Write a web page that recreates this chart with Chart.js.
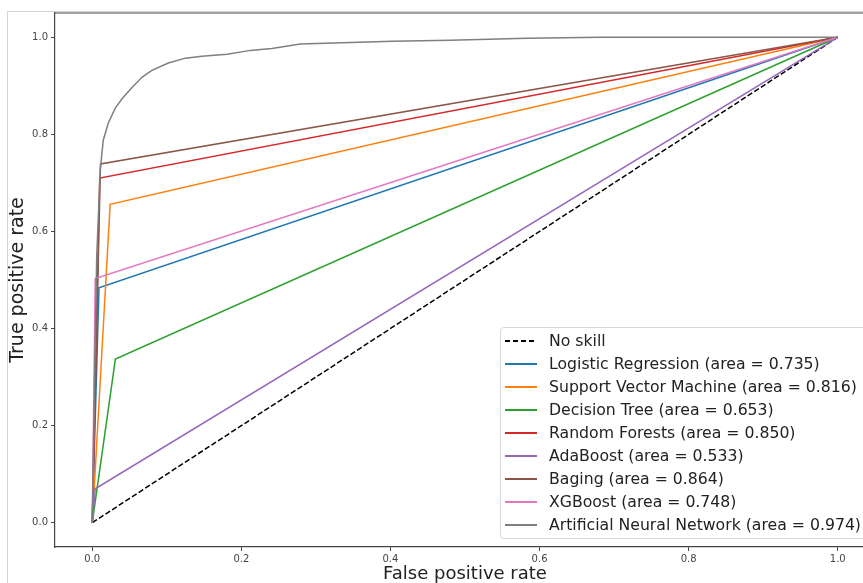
<!DOCTYPE html>
<html>
<head>
<meta charset="utf-8">
<script src="https://cdn.jsdelivr.net/npm/chart.js@4.4.1/dist/chart.umd.min.js"></script>
<style>
  html, body { margin: 0; padding: 0; background: #fff; overflow: hidden; }
  #wrap { position: relative; width: 863px; height: 583px; overflow: hidden; }
  #frame { position: absolute; left: 7px; top: 11px; width: 900px; height: 600px;
           border-left: 1px solid #d4d4d4; border-top: 1px solid #d4d4d4; }
  #rocChart { position: absolute; left: 0; top: 0; }
  #legend { position: absolute; left: 500px; top: 327px; width: 420px; height: 209px;
            border: 1px solid #d8d8d8; border-radius: 4px; background: rgba(255,255,255,0.85);
            font-family: "DejaVu Sans", sans-serif; font-size: 15.7px; color: #222; padding-top: 1px; }
  .row { height: 23px; display: flex; align-items: center; white-space: nowrap; }
  .sw { display: inline-block; width: 32px; margin-left: 4px; margin-right: 12px; height: 2px; }
</style>
</head>
<body>
<div id="wrap">
  <div id="frame"></div>
  <canvas id="rocChart" width="880" height="583"></canvas>
  <div id="legend"></div>
</div>
<script>
// Curvas ROC (fpr / tpr)
const noSkillFpr = [0, 1];
const noSkillTpr = [0, 1];
const lrFpr = [0, 0.009, 1];
const lrTpr = [0, 0.484, 1];
const svmFpr = [0, 0.024, 1];
const svmTpr = [0, 0.656, 1];
const dtFpr = [0, 0.031, 1];
const dtTpr = [0, 0.337, 1];
const rfFpr = [0, 0.010, 1];
const rfTpr = [0, 0.710, 1];
const adaFpr = [0, 0.004, 1];
const adaTpr = [0, 0.070, 1];
const bagFpr = [0, 0.011, 1];
const bagTpr = [0, 0.739, 1];
const xgbFpr = [0, 0.004, 1];
const xgbTpr = [0, 0.503, 1];
const annFpr = [0, 0.003, 0.006, 0.0107, 0.0147, 0.0214, 0.0308, 0.0402, 0.0536, 0.067, 0.080, 0.102,
  0.125, 0.147, 0.181, 0.212, 0.241, 0.279, 0.323, 0.403, 0.480, 0.583, 0.681, 1];
const annTpr = [0, 0.30, 0.55, 0.726, 0.788, 0.823, 0.854, 0.874, 0.897, 0.918, 0.932, 0.947,
  0.957, 0.961, 0.965, 0.973, 0.977, 0.986, 0.988, 0.992, 0.994, 0.998, 1.0, 1];

const labels = [
  "No skill",
  "Logistic Regression (area = 0.735)",
  "Support Vector Machine (area = 0.816)",
  "Decision Tree (area = 0.653)",
  "Random Forests (area = 0.850)",
  "AdaBoost (area = 0.533)",
  "Baging (area = 0.864)",
  "XGBoost (area = 0.748)",
  "Artificial Neural Network (area = 0.974)",
];
const colors = ["#000000", "#1f77b4", "#ff7f0e", "#2ca02c", "#d62728", "#9467bd", "#8c564b", "#e377c2", "#7f7f7f"];
const xTicks = [0, 0.2, 0.4, 0.6, 0.8, 1.0];
const yTicks = [0, 0.2, 0.4, 0.6, 0.8, 1.0];

const series = [
  [noSkillFpr, noSkillTpr], [lrFpr, lrTpr], [svmFpr, svmTpr], [dtFpr, dtTpr], [rfFpr, rfTpr],
  [adaFpr, adaTpr], [bagFpr, bagTpr], [xgbFpr, xgbTpr], [annFpr, annTpr],
];

const datasets = series.map((s, i) => ({
  label: labels[i],
  data: s[0].map((x, k) => ({ x: x, y: s[1][k] })),
  borderColor: colors[i],
  backgroundColor: colors[i],
  borderWidth: 1.5,
  borderDash: i === 0 ? [5.5, 2.4] : [],
  pointRadius: 0,
  tension: 0,
  fill: false,
  order: series.length - i, // a última série fica por cima, como no matplotlib
}));

// moldura de cima (spine) do gráfico
const topSpine = {
  id: "topSpine",
  afterDraw(chart) {
    const { ctx, chartArea } = chart;
    ctx.save();
    ctx.strokeStyle = "#444";
    ctx.lineWidth = 1.2;
    ctx.beginPath();
    ctx.moveTo(chartArea.left, chartArea.top);
    ctx.lineTo(chartArea.right, chartArea.top);
    ctx.lineTo(chartArea.right, chartArea.bottom);
    ctx.stroke();
    ctx.restore();
  },
};

const tickFont = { family: "DejaVu Sans", size: 10 };

const chart = new Chart(document.getElementById("rocChart"), {
  type: "line",
  data: { datasets: datasets },
  options: {
    responsive: false,
    animation: false,
    layout: { padding: { top: 13, right: 5, left: 0, bottom: 0 } },
    plugins: { legend: { display: false }, tooltip: { enabled: false } },
    scales: {
      x: {
        type: "linear",
        min: -0.05,
        max: 1.05,
        afterBuildTicks: (scale) => { scale.ticks = xTicks.map(v => ({ value: v })); },
        afterFit: (scale) => { scale.height = 36; },
        ticks: { font: tickFont, color: "#444", padding: 2, maxRotation: 0,
                 callback: (v) => Number(v).toFixed(1) },
        grid: { drawOnChartArea: false, drawTicks: true, tickLength: 4, tickColor: "#444" },
        border: { color: "#444", width: 1.2 },
        title: { display: true, text: "False positive rate", color: "#222",
                 font: { family: "DejaVu Sans", size: 18, lineHeight: 1 }, padding: { top: 0, bottom: 0 } },
      },
      y: {
        type: "linear",
        min: -0.05,
        max: 1.05,
        afterBuildTicks: (scale) => { scale.ticks = yTicks.map(v => ({ value: v })); },
        afterFit: (scale) => { scale.width = 55; },
        ticks: { font: tickFont, color: "#444", padding: 3,
                 callback: (v) => Number(v).toFixed(1) },
        grid: { drawOnChartArea: false, drawTicks: true, tickLength: 4, tickColor: "#444" },
        border: { color: "#444", width: 1.2 },
        title: { display: true, text: "True positive rate", color: "#222",
                 font: { family: "DejaVu Sans", size: 19, lineHeight: 1.2 }, padding: { top: 7, bottom: 0 } },
      },
    },
  },
  plugins: [topSpine],
});

// legenda em HTML dentro do gráfico (canto inferior direito)
const legendBox = document.getElementById("legend");
chart.data.datasets.forEach((ds) => {
  const row = document.createElement("div");
  row.className = "row";
  const sw = document.createElement("span");
  sw.className = "sw";
  if (ds.borderDash.length) {
    sw.style.background = "repeating-linear-gradient(to right, " + ds.borderColor + " 0 5px, transparent 5px 8px)";
  } else {
    sw.style.background = ds.borderColor;
  }
  const txt = document.createElement("span");
  txt.textContent = ds.label;
  row.appendChild(sw);
  row.appendChild(txt);
  legendBox.appendChild(row);
});
</script>
</body>
</html>
